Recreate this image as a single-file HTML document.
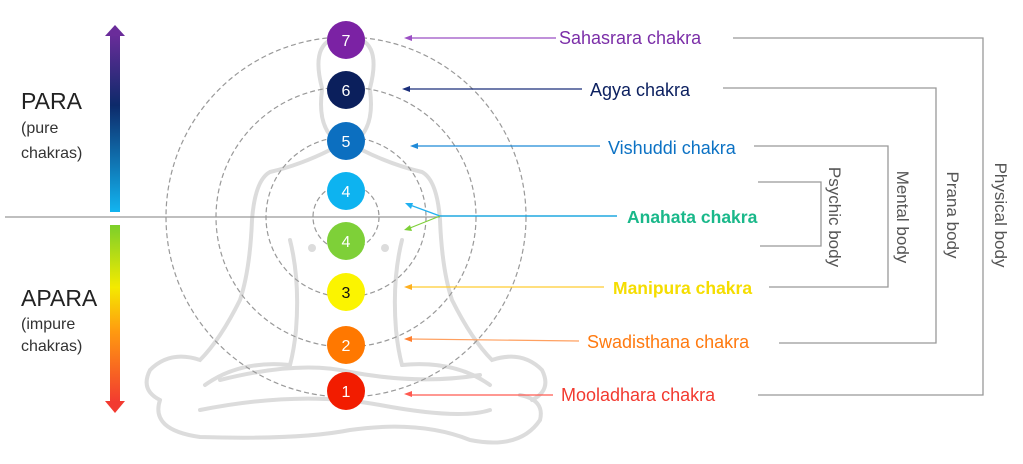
<!DOCTYPE html>
<html><head><meta charset="utf-8"><style>
html,body{margin:0;padding:0;background:#fff;}
svg{display:block;}
text{font-family:"Liberation Sans",sans-serif;}
</style></head><body>
<svg width="1023" height="464" viewBox="0 0 1023 464" xmlns="http://www.w3.org/2000/svg">
<defs>
<linearGradient id="gt" x1="0" y1="0" x2="0" y2="1">
<stop offset="0" stop-color="#6a2c9a"/><stop offset="0.4" stop-color="#0d2a6a"/><stop offset="1" stop-color="#12b4f0"/>
</linearGradient>
<linearGradient id="gb" x1="0" y1="0" x2="0" y2="1">
<stop offset="0" stop-color="#7ccf2a"/><stop offset="0.35" stop-color="#f4ea00"/><stop offset="0.6" stop-color="#ff9a10"/><stop offset="1" stop-color="#f23a30"/>
</linearGradient>
</defs>
<!-- figure silhouette -->
<g fill="none" stroke="#dcdcdc" stroke-width="4" stroke-linecap="round">
<path d="M322 88 Q312 50 330 40 M370 88 Q380 50 362 40"/>
<path d="M322 90 Q318 120 330 135 M370 90 Q374 120 362 135"/>
<path d="M330 150 Q300 165 270 172 Q255 180 252 220 Q250 270 240 300 Q220 340 200 360 Q170 350 150 370 Q140 390 160 400"/>
<path d="M362 150 Q392 165 422 172 Q437 180 440 220 Q442 270 452 300 Q472 340 492 360 Q522 350 542 370 Q552 390 532 400"/>
<path d="M290 240 Q300 280 296 330 Q294 350 290 365 M402 240 Q392 280 396 330 Q398 350 402 365"/>
<path d="M160 400 Q150 430 200 437 Q300 440 350 430 Q420 420 470 440 Q520 450 540 420 Q545 400 520 395"/>
<path d="M200 410 Q300 390 380 405 Q460 420 490 410 M220 380 Q300 360 350 372 Q420 385 480 375"/>
<path d="M205 385 Q240 360 290 365 M490 385 Q455 360 402 365"/>
</g>
<circle cx="312" cy="248" r="4" fill="#dcdcdc"/><circle cx="385" cy="248" r="4" fill="#dcdcdc"/>
<g fill="none" stroke="#999" stroke-width="1.2" stroke-dasharray="5,3">
<circle cx="346" cy="217" r="33"/><circle cx="346" cy="217" r="80"/>
<circle cx="346" cy="217" r="130"/><circle cx="346" cy="217" r="180"/>
</g>
<line x1="5" y1="217" x2="440" y2="217" stroke="#999" stroke-width="1.3"/>
<rect x="110" y="34" width="10" height="178" fill="url(#gt)"/>
<polygon points="105,36 125,36 115,25" fill="#6a2c9a"/>
<rect x="110" y="225" width="10" height="178" fill="url(#gb)"/>
<polygon points="105,401 125,401 115,413" fill="#f23a30"/>
<text x="21" y="109" font-size="23" fill="#222">PARA</text>
<text x="21" y="133" font-size="16" fill="#333">(pure</text>
<text x="21" y="158" font-size="16" fill="#333">chakras)</text>
<text x="21" y="306" font-size="23" fill="#222">APARA</text>
<text x="21" y="329" font-size="16" fill="#333">(impure</text>
<text x="21" y="351" font-size="16" fill="#333">chakras)</text>
<g font-size="16" text-anchor="middle" fill="#fff">
<circle cx="346" cy="40" r="19" fill="#7b22a4"/><text x="346" y="46">7</text>
<circle cx="346" cy="90" r="19" fill="#0b1f5c"/><text x="346" y="96">6</text>
<circle cx="346" cy="141" r="19" fill="#0c6fc0"/><text x="346" y="147">5</text>
<circle cx="346" cy="191" r="19" fill="#0db3f0"/><text x="346" y="197">4</text>
<circle cx="346" cy="241" r="19" fill="#7ed038"/><text x="346" y="247">4</text>
<circle cx="346" cy="292" r="19" fill="#fbf400"/><text x="346" y="298" fill="#111">3</text>
<circle cx="346" cy="345" r="19" fill="#ff7800"/><text x="346" y="351">2</text>
<circle cx="346" cy="391" r="19" fill="#f21c00"/><text x="346" y="397">1</text>
</g>
<g stroke-width="1.2">
<line x1="556" y1="38" x2="410" y2="38" stroke="#9b4fc4"/><polygon points="404,38 412,35 412,41" fill="#9b4fc4"/>
<line x1="582" y1="89" x2="408" y2="89" stroke="#1a2e7a"/><polygon points="402,89 410,86 410,92" fill="#1a2e7a"/>
<line x1="600" y1="146" x2="416" y2="146" stroke="#1f8ad8"/><polygon points="410,146 418,143 418,149" fill="#1f8ad8"/>
<line x1="617" y1="216" x2="440" y2="216" stroke="#20a8e0" stroke-width="1.6"/>
<line x1="440" y1="216" x2="410" y2="205" stroke="#20b0f0"/><polygon points="405,203 413,203 411,209" fill="#20b0f0"/>
<line x1="440" y1="216" x2="410" y2="228" stroke="#7ed038"/><polygon points="404,230 410,225 412,231" fill="#7ed038"/>
<line x1="604" y1="287" x2="410" y2="287" stroke="#ffcc30"/><polygon points="404,287 412,284 412,290" fill="#ffb020"/>
<line x1="579" y1="341" x2="410" y2="339" stroke="#ffa060"/><polygon points="404,339 412,336 412,342" fill="#ff8030"/>
<line x1="553" y1="395" x2="410" y2="395" stroke="#ff5a50"/><polygon points="404,394 412,391 412,397" fill="#ff5a50"/>
</g>
<g font-size="18">
<text x="559" y="44" fill="#7b2ea8">Sahasrara chakra</text>
<text x="590" y="96" fill="#0d2160">Agya chakra</text>
<text x="608" y="154" fill="#0c72c4">Vishuddi chakra</text>
<text x="627" y="223" fill="#1ab88a" font-weight="bold" font-size="17.5">Anahata chakra</text>
<text x="613" y="294" fill="#f5dd00" font-weight="bold" font-size="17.5">Manipura chakra</text>
<text x="587" y="348" fill="#ff7a10">Swadisthana chakra</text>
<text x="561" y="401" fill="#f23a30">Mooladhara chakra</text>
</g>
<g fill="none" stroke="#999" stroke-width="1.3">
<polyline points="733,38 983,38 983,395 758,395"/>
<polyline points="723,88 936,88 936,343 779,343"/>
<polyline points="754,146 888,146 888,287 769,287"/>
<polyline points="758,182 821,182 821,246 760,246"/>
</g>
<g font-size="17" fill="#555" text-anchor="middle">
<text transform="translate(829,217) rotate(90)">Psychic body</text>
<text transform="translate(897,217) rotate(90)">Mental body</text>
<text transform="translate(947,215) rotate(90)">Prana body</text>
<text transform="translate(995,215) rotate(90)">Physical body</text>
</g>
</svg>
</body></html>
